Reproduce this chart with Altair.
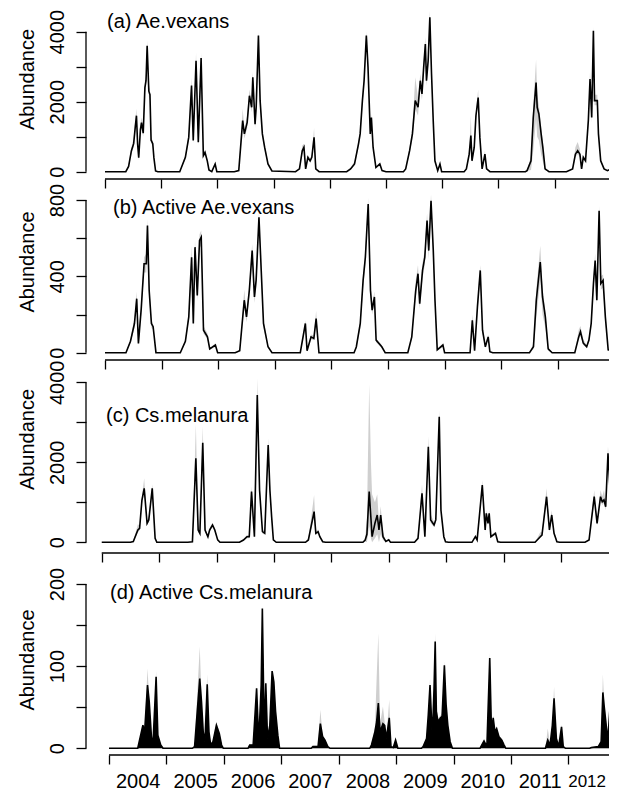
import altair as alt
import pandas as pd

FONT = "Liberation Sans"
GREY = "#cfcfcf"
YEARS = list(range(2004, 2013))

# ---------------- (a) Ae.vexans ----------------
A_T = [2004.00, 2004.37, 2004.42, 2004.47, 2004.51, 2004.54, 2004.56, 2004.58, 2004.60, 2004.63, 2004.65,
       2004.68, 2004.71, 2004.73, 2004.75, 2004.78, 2004.80, 2004.82, 2004.85, 2004.87, 2004.90, 2004.94,
       2005.33, 2005.43, 2005.49, 2005.54, 2005.57, 2005.62, 2005.66, 2005.71, 2005.75, 2005.78, 2005.82,
       2005.85, 2005.90, 2005.96, 2005.99,
       2006.30, 2006.38, 2006.45, 2006.48, 2006.53, 2006.57, 2006.61, 2006.63, 2006.67, 2006.69, 2006.73,
       2006.76, 2006.80, 2006.84, 2006.90, 2006.97,
       2007.39, 2007.46, 2007.51, 2007.54, 2007.57, 2007.61, 2007.65, 2007.68, 2007.72, 2007.75, 2007.81,
       2008.30, 2008.37, 2008.44, 2008.51, 2008.54, 2008.58, 2008.61, 2008.65, 2008.68, 2008.72, 2008.74,
       2008.77, 2008.82, 2008.89, 2008.93, 2009.00,
       2009.31, 2009.35, 2009.42, 2009.47, 2009.52, 2009.57, 2009.61, 2009.64, 2009.67, 2009.70, 2009.72,
       2009.75, 2009.78, 2009.81, 2009.84, 2009.87, 2009.92, 2009.96, 2009.99,
       2010.39, 2010.43, 2010.48, 2010.51, 2010.53, 2010.57, 2010.60, 2010.64, 2010.67, 2010.71, 2010.76,
       2010.79, 2010.85,
       2011.48, 2011.51, 2011.58, 2011.62, 2011.67, 2011.69, 2011.72, 2011.76, 2011.79, 2011.83, 2011.90,
       2012.21, 2012.32, 2012.37, 2012.41, 2012.45, 2012.48, 2012.51, 2012.55, 2012.60, 2012.63, 2012.66,
       2012.69, 2012.71, 2012.76, 2012.78, 2012.82, 2012.88, 2012.94, 2013.01]
A_MID = [0, 0, 150, 600, 800, 1300, 1600, 800, 400, 1200, 1400, 1100, 2400, 2600, 3600, 2300, 2200, 900, 800, 400, 20, 0,
         0, 410, 980, 2460, 890, 3170, 840, 3250, 460, 550, 310, 50, 0, 220, 0,
         0, 30, 1460, 1080, 1410, 2170, 1840, 2700, 1360, 1840, 3890, 2030, 1080, 700, 220, 20,
         0, 80, 600, 700, 80, 410, 310, 410, 980, 80, 0,
         0, 80, 220, 790, 1080, 2030, 2600, 3890, 2980, 1080, 1550, 700, 120, 220, 30, 0,
         0, 80, 600, 1080, 2030, 1840, 2600, 2220, 2980, 3650, 2600, 3170, 4410, 2790, 1460, 310, 30, 220, 0,
         0, 80, 500, 1030, 310, 700, 1600, 2120, 980, 80, 500, 80, 0,
         0, 30, 310, 1550, 2550, 1840, 1650, 1080, 700, 80, 0,
         0, 80, 500, 600, 500, 80, 410, 310, 1460, 2650, 1550, 4030, 2030, 2030, 1080, 310, 80, 30, 80]
A_LO = [0, 0, 120, 500, 700, 1150, 1400, 700, 330, 1050, 1250, 1000, 2250, 2450, 3400, 2150, 2050, 820, 720, 350, 10, 0,
        0, 350, 880, 2300, 800, 3000, 750, 3100, 400, 480, 270, 30, 0, 180, 0,
        0, 20, 1300, 950, 1250, 2000, 1700, 2550, 1250, 1700, 3700, 1900, 1000, 630, 180, 10,
        0, 60, 500, 600, 60, 350, 260, 350, 850, 60, 0,
        0, 60, 180, 700, 980, 1900, 2450, 3700, 2800, 980, 1400, 620, 90, 180, 20, 0,
        0, 60, 520, 950, 1800, 1600, 2400, 2050, 2800, 3450, 2450, 3000, 4200, 2600, 1350, 260, 20, 180, 0,
        0, 60, 430, 900, 260, 620, 1450, 1950, 880, 60, 430, 60, 0,
        0, 20, 50, 600, 1500, 1000, 900, 500, 300, 40, 0,
        0, 60, 420, 500, 420, 60, 350, 260, 1300, 2450, 1400, 3850, 1900, 1900, 980, 270, 60, 20, 60]
A_HI = [0, 0, 200, 700, 950, 1500, 1800, 950, 500, 1350, 1550, 1250, 2600, 2800, 3750, 2500, 2350, 1000, 880, 450, 40, 0,
        0, 480, 1100, 2700, 1000, 3400, 950, 3400, 520, 620, 360, 70, 10, 260, 0,
        0, 50, 1800, 1200, 1600, 2350, 2000, 2850, 1500, 2000, 4000, 2200, 1180, 780, 260, 30,
        0, 100, 750, 800, 120, 480, 380, 480, 1250, 100, 0,
        0, 120, 300, 900, 1200, 2200, 2750, 4000, 3100, 1200, 1650, 780, 150, 260, 40, 0,
        0, 100, 700, 1250, 2700, 2100, 2800, 2400, 3200, 3850, 2800, 3350, 4600, 2950, 1600, 360, 40, 260, 0,
        0, 100, 600, 1600, 400, 800, 1750, 2350, 1100, 100, 600, 100, 0,
        0, 40, 450, 1900, 3200, 2200, 1900, 1300, 850, 120, 0,
        0, 100, 700, 850, 650, 120, 480, 380, 1650, 2850, 1700, 4150, 2200, 2200, 1200, 360, 100, 40, 100]

# ---------------- (b) Active Ae.vexans ----------------
B_T = [2004.00, 2004.37, 2004.45, 2004.52, 2004.56, 2004.59, 2004.64, 2004.66, 2004.69, 2004.73, 2004.75,
       2004.78, 2004.82, 2004.85, 2004.90,
       2005.33, 2005.42, 2005.48, 2005.53, 2005.56, 2005.59, 2005.63, 2005.67, 2005.70, 2005.74, 2005.81,
       2005.85, 2005.95, 2005.99,
       2006.30, 2006.38, 2006.46, 2006.50, 2006.55, 2006.60, 2006.64, 2006.67, 2006.72, 2006.76, 2006.80,
       2006.88, 2006.95,
       2007.45, 2007.54, 2007.57, 2007.64, 2007.69, 2007.73, 2007.78,
       2008.40, 2008.44, 2008.51, 2008.56, 2008.60, 2008.65, 2008.69, 2008.72, 2008.76, 2008.79, 2008.89,
       2008.95,
       2009.35, 2009.42, 2009.49, 2009.53, 2009.56, 2009.61, 2009.65, 2009.69, 2009.72, 2009.76, 2009.80,
       2009.83, 2009.87, 2009.97, 2010.00,
       2010.45, 2010.49, 2010.53, 2010.58, 2010.63, 2010.67, 2010.72, 2010.77, 2010.80, 2010.85,
       2011.50, 2011.57, 2011.62, 2011.69, 2011.73, 2011.78, 2011.83, 2011.90,
       2012.30, 2012.37, 2012.40, 2012.45, 2012.51, 2012.55, 2012.59, 2012.63, 2012.66, 2012.69, 2012.73,
       2012.76, 2012.80, 2012.84, 2012.89, 2012.96, 2013.05]
B_MID = [0, 0, 60, 153, 283, 49, 231, 327, 466, 466, 666, 327, 153, 136, 0,
         0, 60, 188, 500, 153, 553, 300, 588, 605, 118, 83, 20, 40, 0,
         0, 10, 275, 188, 327, 535, 292, 380, 710, 431, 153, 31, 0,
         0, 153, 10, 83, 75, 179, 0,
         0, 30, 153, 379, 500, 779, 327, 223, 292, 66, 31, 0,
         0, 83, 327, 414, 257, 431, 500, 692, 535, 796, 535, 275, 15, 40, 0,
         0, 170, 10, 240, 431, 118, 31, 83, 5, 0,
         0, 31, 275, 475, 292, 188, 20, 0,
         0, 83, 110, 50, 31, 66, 153, 362, 483, 275, 744, 362, 379, 188, 15, 10, 5]
B_LO = [0, 0, 50, 130, 250, 40, 200, 290, 420, 420, 620, 290, 130, 120, 0,
        0, 50, 170, 460, 130, 510, 270, 550, 560, 100, 70, 15, 30, 0,
        0, 5, 240, 160, 290, 490, 260, 340, 660, 390, 130, 25, 0,
        0, 130, 5, 70, 65, 150, 0,
        0, 25, 130, 340, 460, 740, 290, 200, 260, 55, 25, 0,
        0, 70, 290, 370, 230, 390, 460, 650, 490, 760, 490, 240, 10, 30, 0,
        0, 150, 5, 210, 390, 100, 25, 70, 3, 0,
        0, 20, 180, 380, 200, 130, 10, 0,
        0, 70, 90, 40, 25, 55, 130, 330, 440, 250, 700, 330, 340, 160, 10, 5, 3]
B_HI = [0, 0, 70, 180, 320, 60, 260, 360, 500, 520, 700, 360, 170, 150, 0,
        0, 70, 210, 560, 180, 590, 330, 620, 640, 140, 100, 25, 50, 0,
        0, 15, 330, 210, 360, 570, 330, 420, 740, 460, 170, 40, 0,
        0, 170, 15, 95, 90, 220, 0,
        0, 40, 170, 410, 540, 810, 360, 250, 320, 75, 40, 0,
        0, 100, 380, 460, 290, 470, 540, 730, 570, 830, 570, 300, 20, 50, 0,
        0, 200, 15, 270, 460, 140, 40, 95, 8, 0,
        0, 50, 330, 560, 340, 220, 30, 0,
        0, 120, 140, 70, 40, 80, 170, 400, 520, 310, 770, 400, 410, 210, 20, 15, 8]

# ---------------- (c) Cs.melanura ----------------
C_T = [2004.00, 2004.50, 2004.55, 2004.63, 2004.66, 2004.70, 2004.74, 2004.79, 2004.82, 2004.88, 2004.93, 2004.96,
       2005.50, 2005.58, 2005.64, 2005.68, 2005.71, 2005.76, 2005.80, 2005.85, 2005.88, 2005.93, 2005.97,
       2006.02, 2006.06,
       2006.40, 2006.47, 2006.53, 2006.57, 2006.61, 2006.66, 2006.71, 2006.75, 2006.80, 2006.84, 2006.90,
       2006.93, 2006.96, 2006.99, 2007.04,
       2007.55, 2007.60, 2007.70, 2007.73, 2007.77, 2007.80, 2007.85, 2007.90,
       2008.55, 2008.59, 2008.62, 2008.66, 2008.69, 2008.71, 2008.76, 2008.80, 2008.83, 2008.86, 2008.90,
       2008.95, 2009.00, 2009.03,
       2009.45, 2009.51, 2009.58, 2009.63, 2009.69, 2009.73, 2009.79, 2009.82, 2009.88, 2009.91, 2009.96,
       2009.99, 2010.04,
       2010.45, 2010.51, 2010.54, 2010.63, 2010.68, 2010.70, 2010.73, 2010.75, 2010.78, 2010.86, 2010.90,
       2010.95,
       2011.55, 2011.64, 2011.67, 2011.75, 2011.80, 2011.84, 2011.88, 2011.93, 2011.98,
       2012.42, 2012.49, 2012.58, 2012.63, 2012.69, 2012.72, 2012.75, 2012.78, 2012.82, 2012.85, 2012.88,
       2012.94, 2013.00]
C_MID = [0, 0, 20, 308, 350, 1050, 1350, 475, 560, 1350, 100, 0,
         0, 15, 2100, 308, 225, 2490, 308, 140, 308, 433, 308, 60, 0,
         0, 58, 140, 140, 1270, 140, 3680, 1300, 266, 225, 2430, 1300, 640, 60, 0,
         0, 58, 766, 225, 266, 140, 15, 0,
         0, 58, 200, 1270, 600, 140, 475, 683, 308, 683, 140, 20, 60, 0,
         0, 100, 1225, 140, 2390, 560, 433, 560, 3140, 800, 140, 15, 0,
         0, 140, 58, 1430, 308, 725, 475, 725, 140, 225, 15, 0,
         0, 140, 180, 1140, 308, 683, 225, 15, 0,
         0, 58, 1140, 475, 1140, 1015, 1060, 890, 2225, 1475, 475, 200, 100]
C_LO = [0, 0, 10, 250, 300, 950, 1250, 420, 500, 1250, 80, 0,
        0, 10, 1950, 250, 180, 2350, 260, 110, 260, 380, 260, 40, 0,
        0, 40, 100, 100, 1150, 110, 3500, 1150, 220, 190, 2300, 1200, 560, 40, 0,
        0, 40, 650, 180, 220, 110, 10, 0,
        0, 20, 0, 400, 100, 0, 100, 200, 0, 200, 60, 10, 40, 0,
        0, 80, 1100, 110, 2250, 480, 380, 480, 3000, 700, 110, 10, 0,
        0, 110, 40, 1300, 260, 650, 420, 650, 110, 190, 10, 0,
        0, 110, 150, 1050, 260, 600, 190, 10, 0,
        0, 40, 1050, 420, 1050, 930, 980, 800, 2100, 1350, 420, 150, 80]
C_HI = [0, 0, 30, 450, 420, 1150, 1600, 550, 650, 1450, 130, 0,
        0, 20, 2950, 400, 280, 2900, 360, 170, 360, 480, 350, 80, 0,
        0, 80, 180, 180, 1400, 180, 4100, 1450, 320, 270, 2600, 1500, 720, 80, 0,
        0, 80, 1180, 280, 320, 180, 25, 0,
        0, 100, 600, 3950, 2000, 1200, 1000, 1200, 500, 900, 250, 30, 80, 0,
        0, 130, 1450, 180, 2650, 700, 500, 650, 3300, 900, 180, 20, 0,
        0, 180, 80, 1550, 360, 800, 530, 800, 180, 270, 25, 0,
        0, 250, 250, 1350, 380, 800, 270, 25, 0,
        0, 80, 1300, 560, 1300, 1150, 1300, 1000, 2400, 1650, 560, 260, 130]

# ---------------- (d) Active Cs.melanura ----------------
D_T = [2004.00, 2004.50, 2004.59, 2004.62, 2004.67, 2004.70, 2004.74, 2004.77, 2004.82, 2004.85, 2004.90,
       2004.94,
       2005.45, 2005.49, 2005.58, 2005.61, 2005.64, 2005.67, 2005.71, 2005.74, 2005.77, 2005.81, 2005.87,
       2005.92, 2005.96, 2005.99,
       2006.42, 2006.45, 2006.51, 2006.57, 2006.60, 2006.62, 2006.65, 2006.67, 2006.69, 2006.71, 2006.73,
       2006.76, 2006.80, 2006.84, 2006.87, 2006.90, 2006.94, 2006.97,
       2007.52, 2007.55, 2007.64, 2007.68, 2007.72, 2007.76, 2007.81, 2007.85,
       2008.54, 2008.57, 2008.63, 2008.66, 2008.69, 2008.72, 2008.77, 2008.80, 2008.83, 2008.88, 2008.91,
       2008.95, 2008.99, 2009.03,
       2009.44, 2009.47, 2009.53, 2009.56, 2009.59, 2009.63, 2009.66, 2009.68, 2009.70, 2009.73, 2009.77,
       2009.80, 2009.84, 2009.87, 2009.90, 2009.94, 2009.98,
       2010.46, 2010.49, 2010.53, 2010.58, 2010.63, 2010.66, 2010.69, 2010.72, 2010.75, 2010.79, 2010.84,
       2010.88, 2010.91,
       2011.60, 2011.64, 2011.68, 2011.72, 2011.75, 2011.79, 2011.83, 2011.88, 2011.91, 2011.95,
       2012.37, 2012.40, 2012.52, 2012.57, 2012.60, 2012.62, 2012.67, 2012.69, 2012.72, 2012.75, 2012.78,
       2012.81, 2012.85]
D_MID = [0, 0, 28, 20, 77, 57, 12, 12, 87, 16, 4, 0,
         0, 2, 85, 57, 20, 8, 78, 20, 4, 8, 28, 18, 4, 0,
         0, 4, 4, 73, 20, 28, 77, 170, 77, 16, 79, 12, 28, 94, 81, 45, 16, 0,
         0, 2, 2, 30, 14, 10, 2, 0,
         0, 4, 20, 32, 55, 20, 30, 28, 12, 37, 2, 1, 10, 0,
         0, 2, 12, 41, 77, 12, 73, 130, 45, 32, 37, 39, 101, 53, 28, 8, 0,
         0, 4, 9, 2, 110, 20, 37, 20, 24, 14, 10, 4, 0,
         0, 10, 4, 28, 61, 12, 2, 26, 2, 0,
         0, 1, 2, 8, 68, 53, 20, 14, 45, 59, 63, 61, 45]
D_HI = [0, 0, 30, 22, 97, 60, 14, 14, 94, 18, 5, 0,
        0, 3, 124, 62, 22, 10, 90, 22, 5, 9, 32, 20, 5, 0,
        0, 5, 5, 75, 22, 30, 80, 174, 80, 18, 82, 14, 30, 95, 84, 48, 18, 0,
        0, 3, 3, 47, 16, 12, 3, 0,
        0, 6, 25, 85, 140, 30, 51, 32, 14, 59, 3, 2, 12, 0,
        0, 3, 14, 45, 85, 14, 78, 140, 50, 36, 40, 42, 106, 56, 30, 9, 0,
        0, 5, 10, 3, 116, 24, 40, 22, 26, 16, 12, 5, 0,
        0, 24, 5, 30, 75, 14, 3, 29, 3, 0,
        0, 1, 3, 10, 90, 60, 24, 16, 50, 83, 85, 70, 55]

W = 531
ONE = pd.DataFrame({"k": [0]})


def make_panel(df, xdom, ydom, yticks, label_step, height, title, title_x, title_y,
               ytitle_y, xlabels, filled, year_px):
    xscale = alt.Scale(domain=xdom, nice=False, zero=False)
    yscale = alt.Scale(domain=ydom, nice=False, zero=False)
    last = YEARS[-1]
    xaxis = alt.Axis(values=YEARS, format="d", title=None, domain=False, grid=False,
                     tickSize=9, tickColor="black", tickWidth=1.3, labels=xlabels,
                     labelExpr=f"datum.value === {last} ? '' : datum.label",
                     labelOffset=year_px / 2, labelPadding=7, labelFont=FONT, labelFontSize=20,
                     labelColor="black", labelAngle=0, labelOverlap=False)
    yaxis = alt.Axis(values=yticks, format="d",
                     labelExpr=f"datum.value % {label_step} === 0 ? datum.label : ''",
                     domain=False, grid=False, tickSize=10, tickColor="black", tickWidth=1.3,
                     labelAngle=270, labelAlign="center", labelBaseline="bottom", labelPadding=8.5,
                     labelFont=FONT, labelFontSize=20, labelColor="black", labelOverlap=False,
                     title="Abundance", titleFont=FONT, titleFontSize=20, titleFontWeight="normal",
                     titleColor="black", titleAngle=270, titleAlign="center",
                     titleBaseline="alphabetic", titleX=-53, titleY=ytitle_y)
    base = alt.Chart(df)
    x = alt.X("t:Q", scale=xscale, axis=xaxis)
    layers = []
    if filled:
        layers.append(base.mark_area(color=GREY, clip=True).encode(
            x=x, y=alt.Y("hi:Q", scale=yscale, axis=yaxis), y2=alt.Y2Datum(0)))
        layers.append(base.mark_area(color="black", clip=True).encode(
            x=x, y=alt.Y("mid:Q", scale=yscale, axis=yaxis), y2=alt.Y2Datum(0)))
    else:
        layers.append(base.mark_area(color=GREY, clip=True).encode(
            x=x, y=alt.Y("lo:Q", scale=yscale, axis=yaxis), y2="hi:Q"))
    layers.append(base.mark_line(color="black", strokeWidth=1.6, clip=True).encode(
        x=x, y=alt.Y("mid:Q", scale=yscale, axis=yaxis)))
    xline = alt.Chart(ONE).mark_rule(color="black", strokeWidth=1.3).encode(
        x=alt.XDatum(2004, scale=xscale, axis=xaxis), x2=alt.value(W), y=alt.value(height))
    yline = alt.Chart(ONE).mark_rule(color="black", strokeWidth=1.3).encode(
        x=alt.value(0), y=alt.YDatum(0, scale=yscale, axis=yaxis), y2=alt.Y2Datum(yticks[-1]))
    label = alt.Chart(ONE).mark_text(align="left", baseline="middle", font=FONT, fontSize=20,
                                     color="black").encode(
        x=alt.value(title_x), y=alt.value(title_y), text=alt.value(title))
    layers += [xline, yline, label]
    if xlabels:
        # last year label, kept inside the visible page edge
        layers.append(alt.Chart(ONE).mark_text(align="right", baseline="alphabetic", font=FONT,
                                               fontSize=17, color="black").encode(
            x=alt.value(W - 11), y=alt.value(height + 31.5), text=alt.value(str(last))))
    return alt.layer(*layers).properties(width=W, height=height)


dfa = pd.DataFrame({"t": A_T, "mid": A_MID, "lo": A_LO, "hi": A_HI})
dfb = pd.DataFrame({"t": B_T, "mid": B_MID, "lo": B_LO, "hi": B_HI})
dfc = pd.DataFrame({"t": C_T, "mid": C_MID, "lo": C_LO, "hi": C_HI})
dfd = pd.DataFrame({"t": D_T, "mid": D_MID, "hi": D_HI})

pa = make_panel(dfa, [2003.662, 2013.110], [-209, 4649], [0, 1000, 2000, 3000, 4000], 2000, 170,
                "(a) Ae.vexans", 21, 13, 70, False, False, 56.2)
pb = make_panel(dfb, [2003.664, 2013.046], [-38.2, 910], [0, 200, 400, 600, 800], 400, 181,
                "(b) Active Ae.vexans", 27, 29, 82.5, False, False, 56.6)
pc = make_panel(dfc, [2003.726, 2012.977], [-267.5, 4557.5], [0, 1000, 2000, 3000, 4000], 2000, 193,
                "(c) Cs.melanura", 20, 56, 79, False, False, 57.4)
pdd = make_panel(dfd, [2003.599, 2012.846], [-8.16, 237.7], [0, 50, 100, 150, 200], 100, 202,
                 "(d) Active Cs.melanura", 24, 40, 106.5, True, True, 57.4)

chart = alt.vconcat(pa, pb, pc, pdd, spacing=0, bounds="flush").properties(
    padding={"left": 9, "top": 1, "right": -9, "bottom": 0}
).configure_view(stroke=None)

chart.save("out.html", embed_options={"renderer": "svg", "actions": False})
